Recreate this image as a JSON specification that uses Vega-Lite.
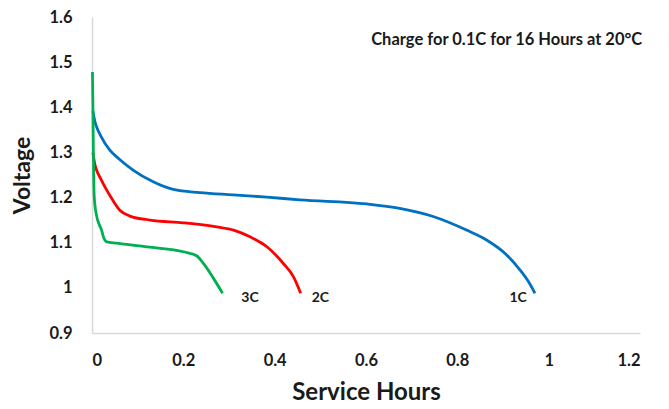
{
  "$schema": "https://vega.github.io/schema/vega-lite/v6.json",
  "width": 548,
  "height": 316,
  "autosize": {"type": "none"},
  "padding": {"left": 92, "top": 17, "right": 29, "bottom": 76},
  "background": "white",
  "config": {"view": {"stroke": null}, "font": "Lato"},
  "datasets": {
    "curves": [
      {"s": "1C", "h": 0.002, "v": 1.392},
      {"s": "1C", "h": 0.006, "v": 1.37},
      {"s": "1C", "h": 0.010, "v": 1.357},
      {"s": "1C", "h": 0.020, "v": 1.335},
      {"s": "1C", "h": 0.039, "v": 1.305},
      {"s": "1C", "h": 0.060, "v": 1.285},
      {"s": "1C", "h": 0.090, "v": 1.261},
      {"s": "1C", "h": 0.134, "v": 1.235},
      {"s": "1C", "h": 0.178, "v": 1.218},
      {"s": "1C", "h": 0.236, "v": 1.211},
      {"s": "1C", "h": 0.309, "v": 1.206},
      {"s": "1C", "h": 0.383, "v": 1.201},
      {"s": "1C", "h": 0.455, "v": 1.195},
      {"s": "1C", "h": 0.601, "v": 1.186},
      {"s": "1C", "h": 0.674, "v": 1.176},
      {"s": "1C", "h": 0.747, "v": 1.158},
      {"s": "1C", "h": 0.820, "v": 1.128},
      {"s": "1C", "h": 0.864, "v": 1.106},
      {"s": "1C", "h": 0.908, "v": 1.073},
      {"s": "1C", "h": 0.937, "v": 1.040},
      {"s": "1C", "h": 0.955, "v": 1.015},
      {"s": "1C", "h": 0.970, "v": 0.988},
      {"s": "2C", "h": 0.002, "v": 1.30},
      {"s": "2C", "h": 0.006, "v": 1.275},
      {"s": "2C", "h": 0.010, "v": 1.261},
      {"s": "2C", "h": 0.020, "v": 1.24},
      {"s": "2C", "h": 0.032, "v": 1.217},
      {"s": "2C", "h": 0.045, "v": 1.195},
      {"s": "2C", "h": 0.061, "v": 1.172},
      {"s": "2C", "h": 0.083, "v": 1.159},
      {"s": "2C", "h": 0.127, "v": 1.150},
      {"s": "2C", "h": 0.200, "v": 1.144},
      {"s": "2C", "h": 0.273, "v": 1.135},
      {"s": "2C", "h": 0.310, "v": 1.128},
      {"s": "2C", "h": 0.346, "v": 1.113},
      {"s": "2C", "h": 0.383, "v": 1.091},
      {"s": "2C", "h": 0.419, "v": 1.054},
      {"s": "2C", "h": 0.441, "v": 1.025},
      {"s": "2C", "h": 0.457, "v": 0.988},
      {"s": "3C", "h": 0.001, "v": 1.478},
      {"s": "3C", "h": 0.002, "v": 1.40},
      {"s": "3C", "h": 0.003, "v": 1.30},
      {"s": "3C", "h": 0.004, "v": 1.23},
      {"s": "3C", "h": 0.005, "v": 1.20},
      {"s": "3C", "h": 0.010, "v": 1.16},
      {"s": "3C", "h": 0.016, "v": 1.14},
      {"s": "3C", "h": 0.021, "v": 1.128},
      {"s": "3C", "h": 0.025, "v": 1.113},
      {"s": "3C", "h": 0.032, "v": 1.102},
      {"s": "3C", "h": 0.054, "v": 1.099},
      {"s": "3C", "h": 0.127, "v": 1.090},
      {"s": "3C", "h": 0.200, "v": 1.080},
      {"s": "3C", "h": 0.229, "v": 1.071},
      {"s": "3C", "h": 0.244, "v": 1.054},
      {"s": "3C", "h": 0.266, "v": 1.021},
      {"s": "3C", "h": 0.286, "v": 0.988}
    ],
    "labels": [
      {"t": "3C", "h": 0.346, "v": 0.978},
      {"t": "2C", "h": 0.500, "v": 0.978},
      {"t": "1C", "h": 0.933, "v": 0.978}
    ],
    "note": [
      {"t": "Charge for 0.1C for 16 Hours at 20°C", "h": 1.205, "v": 1.549}
    ]
  },
  "layer": [
    {
      "data": {"name": "curves"},
      "mark": {"type": "line", "strokeWidth": 2.8, "interpolate": "monotone"},
      "encoding": {
        "x": {
          "field": "h", "type": "quantitative",
          "scale": {"domain": [0, 1.2], "nice": false},
          "axis": {
            "title": "Service Hours", "titleFontSize": 24, "titleFontWeight": "bold", "titleColor": "#1a1a1a",
            "titlePadding": 12,
            "values": [0, 0.2, 0.4, 0.6, 0.8, 1, 1.2], "format": ".2~f",
            "labelFontSize": 16.5, "labelFontWeight": "bold", "labelColor": "#1a1a1a", "labelPadding": 19,
            "grid": false, "ticks": false, "domainColor": "#d9d9d9", "domainWidth": 1.5
          }
        },
        "y": {
          "field": "v", "type": "quantitative",
          "scale": {"domain": [0.9, 1.6], "nice": false, "zero": false},
          "axis": {
            "title": "Voltage", "titleFontSize": 23, "titleFontWeight": "bold", "titleColor": "#1a1a1a",
            "titlePadding": 14,
            "values": [0.9, 1, 1.1, 1.2, 1.3, 1.4, 1.5, 1.6], "format": ".2~f",
            "labelFontSize": 16.5, "labelFontWeight": "bold", "labelColor": "#1a1a1a", "labelPadding": 20,
            "grid": false, "ticks": false, "domainColor": "#d9d9d9", "domainWidth": 1.5
          }
        },
        "color": {
          "field": "s", "type": "nominal",
          "scale": {"domain": ["1C", "2C", "3C"], "range": ["#0070C0", "#FF0000", "#00B050"]},
          "legend": null
        }
      }
    },
    {
      "data": {"name": "labels"},
      "mark": {"type": "text", "fontSize": 14, "fontWeight": "bold", "color": "#1a1a1a", "align": "center", "baseline": "middle"},
      "encoding": {
        "x": {"field": "h", "type": "quantitative"},
        "y": {"field": "v", "type": "quantitative"},
        "text": {"field": "t"}
      }
    },
    {
      "data": {"name": "note"},
      "mark": {"type": "text", "fontSize": 16.5, "fontWeight": "bold", "color": "#1a1a1a", "align": "right", "baseline": "middle"},
      "encoding": {
        "x": {"field": "h", "type": "quantitative"},
        "y": {"field": "v", "type": "quantitative"},
        "text": {"field": "t"}
      }
    }
  ]
}
